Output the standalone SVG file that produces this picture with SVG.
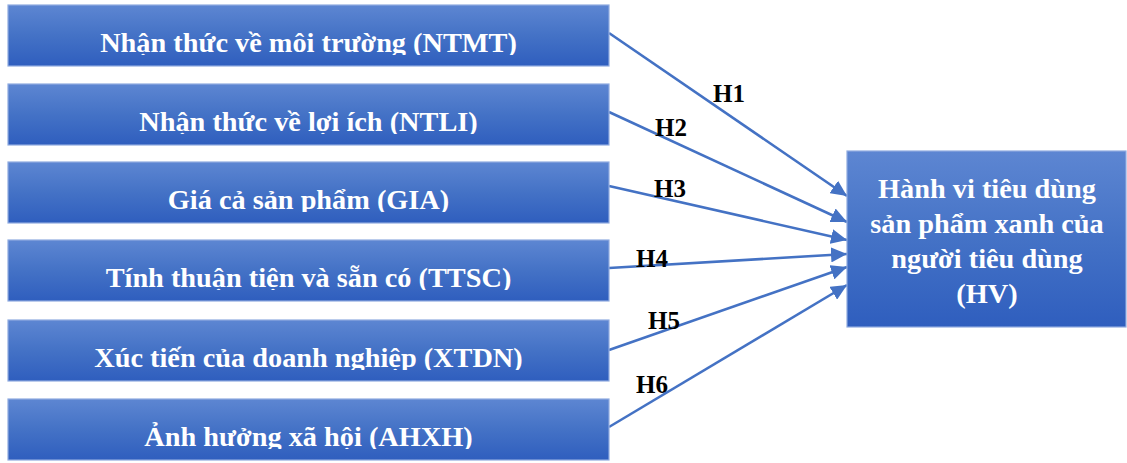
<svg xmlns="http://www.w3.org/2000/svg" width="1127" height="463" viewBox="0 0 1127 463">
<style>
.box{fill:url(#bg);stroke:#8FABE0;stroke-width:1.2}
.bt{font-family:"Liberation Serif","Times New Roman",serif;font-weight:bold;font-size:28.3px;fill:#ffffff;text-anchor:middle}
.lbl{font-family:"Liberation Serif","Times New Roman",serif;font-weight:bold;font-size:25px;fill:#000000}
.con{stroke:#4472C4;stroke-width:2.6;fill:none;marker-end:url(#ah)}
</style>
<defs>
<linearGradient id="bg" x1="0" y1="0" x2="0" y2="1">
<stop offset="0" stop-color="#5D86D2"/>
<stop offset="0.5" stop-color="#4472C6"/>
<stop offset="1" stop-color="#2F5EBE"/>
</linearGradient>
<marker id="ah" markerUnits="userSpaceOnUse" markerWidth="17" markerHeight="15" refX="16" refY="7.5" orient="auto">
<path d="M0,0 L16,7.5 L0,15 Z" fill="#4472C4"/>
</marker>
<clipPath id="c1"><rect x="8" y="5" width="601" height="50"/></clipPath>
<clipPath id="c2"><rect x="8" y="84" width="601" height="50"/></clipPath>
<clipPath id="c3"><rect x="8" y="162" width="601" height="50"/></clipPath>
<clipPath id="c4"><rect x="8" y="240" width="601" height="50"/></clipPath>
<clipPath id="c5"><rect x="8" y="320" width="601" height="50"/></clipPath>
<clipPath id="c6"><rect x="8" y="399" width="601" height="50"/></clipPath>
</defs>
<rect width="1127" height="463" fill="#ffffff"/>
<g id="connectors">
<line class="con" x1="609" y1="33" x2="847" y2="196"/>
<line class="con" x1="609" y1="112" x2="847" y2="222"/>
<line class="con" x1="609" y1="186" x2="847" y2="240"/>
<line class="con" x1="609" y1="268" x2="847" y2="254"/>
<line class="con" x1="609" y1="350" x2="847" y2="267"/>
<line class="con" x1="609" y1="427" x2="847" y2="285"/>
<text class="lbl" x="713" y="102">H1</text>
<text class="lbl" x="655" y="136">H2</text>
<text class="lbl" x="654" y="197">H3</text>
<text class="lbl" x="636" y="267">H4</text>
<text class="lbl" x="648" y="329">H5</text>
<text class="lbl" x="636" y="393">H6</text>
</g>
<g id="NTMT">
<rect class="box" x="8" y="5" width="601" height="61"/>
<text class="bt" x="308.5" y="51.5" clip-path="url(#c1)">Nhận thức về môi trường (NTMT)</text>
</g>
<g id="NTLI">
<rect class="box" x="8" y="84" width="601" height="61"/>
<text class="bt" x="308.5" y="130.5" clip-path="url(#c2)">Nhận thức về lợi ích (NTLI)</text>
</g>
<g id="GIA">
<rect class="box" x="8" y="162" width="601" height="61"/>
<text class="bt" x="308.5" y="208.5" clip-path="url(#c3)">Giá cả sản phẩm (GIA)</text>
</g>
<g id="TTSC">
<rect class="box" x="8" y="240" width="601" height="61"/>
<text class="bt" x="308.5" y="286.5" clip-path="url(#c4)">Tính thuận tiện và sẵn có (TTSC)</text>
</g>
<g id="XTDN">
<rect class="box" x="8" y="320" width="601" height="61"/>
<text class="bt" x="308.5" y="367" clip-path="url(#c5)">Xúc tiến của doanh nghiệp (XTDN)</text>
</g>
<g id="AHXH">
<rect class="box" x="8" y="399" width="601" height="61"/>
<text class="bt" x="308.5" y="446" clip-path="url(#c6)">Ảnh hưởng xã hội (AHXH)</text>
</g>
<g id="HV">
<rect class="box" x="847" y="151" width="279" height="176"/>
<text class="bt" x="987" y="198">Hành vi tiêu dùng</text>
<text class="bt" x="987" y="233">sản phẩm xanh của</text>
<text class="bt" x="987" y="268">người tiêu dùng</text>
<text class="bt" x="987" y="303">(HV)</text>
</g>
</svg>
